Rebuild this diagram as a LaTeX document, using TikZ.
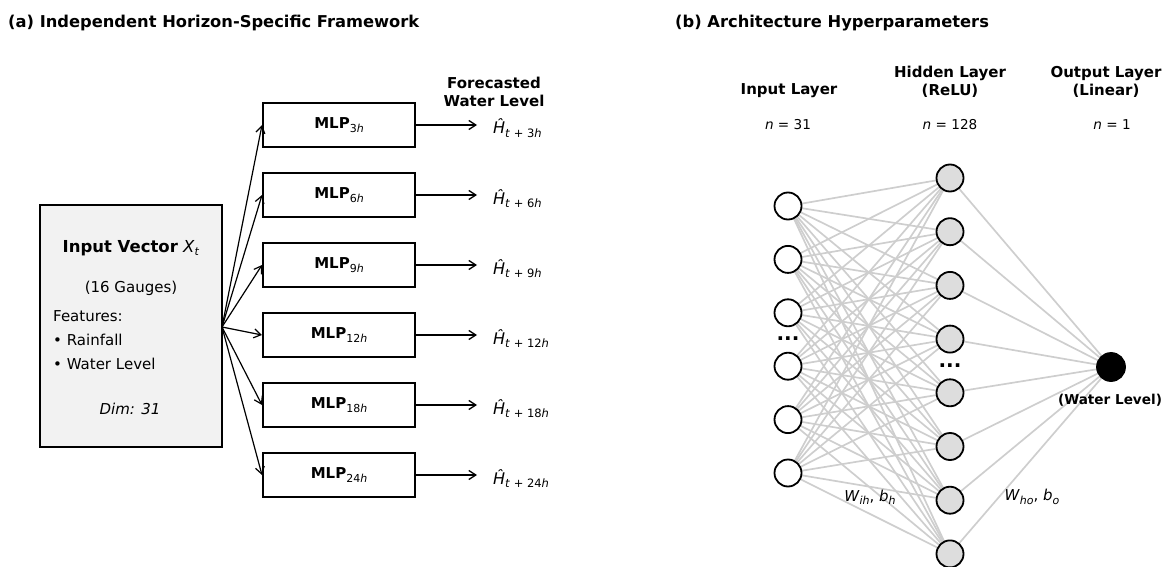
\documentclass[tikz,border=0pt]{standalone}
\usepackage{fontspec}
\setmainfont{DejaVu Sans}[ItalicFont={DejaVu Sans Oblique},BoldFont={DejaVu Sans Bold},BoldItalicFont={DejaVu Sans Bold Oblique}]
\usetikzlibrary{arrows.meta,backgrounds}
\definecolor{edgegray}{RGB}{206,206,206}
\definecolor{hidfill}{RGB}{221,221,221}
\definecolor{boxfill}{RGB}{242,242,242}
\newcommand{\lowsub}[1]{\raisebox{-0.4ex}{\fontsize{11}{12}\selectfont #1}}
\newcommand{\hsub}[1]{\raisebox{-0.4ex}{\fontsize{11.5}{13}\selectfont #1}}
\begin{document}
\begin{tikzpicture}[x=1pt,y=-1pt,
  titletxt/.style={font=\fontsize{16.3}{19}\selectfont\bfseries,inner sep=0pt,anchor=west},
  bodytxt/.style={font=\fontsize{15}{18}\selectfont,inner sep=0pt},
  smalltxt/.style={font=\fontsize{13.6}{16}\selectfont,inner sep=0pt},
  headtxt/.style={font=\fontsize{15}{18}\selectfont\bfseries,inner sep=0pt,align=center},
  inbox/.style={draw,line width=1.6pt,fill=boxfill,minimum width=182pt,minimum height=242pt,inner sep=0pt},
  mlpbox/.style={draw,line width=2pt,fill=white,minimum width=152pt,minimum height=44pt,inner sep=0pt,font=\fontsize{15}{18}\selectfont},
  fanarrow/.style={line width=1.2pt,-{Straight Barb[length=7pt,width=9pt]}},
  outarrow/.style={line width=1.3pt,-{Straight Barb[length=7pt,width=9pt]},shorten >=16pt},
  inneur/.style={circle,draw,line width=1.8pt,fill=white,minimum size=27pt,inner sep=0pt},
  hidneur/.style={circle,draw,line width=1.8pt,fill=hidfill,minimum size=27pt,inner sep=0pt},
  outneur/.style={circle,draw,line width=1.8pt,fill=black,minimum size=28pt,inner sep=0pt},
  wire/.style={draw=edgegray,line width=1.7pt},
  dotstxt/.style={font=\fontsize{20}{20}\selectfont\bfseries,inner sep=0pt}
]
\useasboundingbox (0,0) rectangle (1175,567);

% ---------- Panel (a) ----------
\node[titletxt] (ta) at (8,23) {(a) Independent Horizon-Specific Framework};

\node[inbox] (inp) at (131,326) {};
\node[bodytxt,font=\fontsize{16.5}{19}\selectfont] (iv) at (131,248) {\textbf{Input Vector} \textit{X}\lowsub{\textit{t}}};
\node[bodytxt] (ig) at (131,288) {(16 Gauges)};
\node[bodytxt,anchor=west] (if) at (53,316) {Features:};
\node[bodytxt,anchor=west] (ir) at (53,340) {• Rainfall};
\node[bodytxt,anchor=west] (iw) at (53,364) {• Water Level};
\node[bodytxt] (id) at (130,409) {\textit{Dim: 31}};

\coordinate (fan) at (222,327);

\node[headtxt] (fw) at (494,92) {Forecasted\\Water Level};

\foreach \k/\yy in {3/125,6/195,9/265,12/335,18/405,24/475}{
  \node[mlpbox] (m\k) at (339,\yy) {\textbf{MLP}\lowsub{\k\textit{h}}};
  \node[bodytxt,anchor=base west,font=\fontsize{16}{18}\selectfont] (h\k) at (493,\yy+9) {\textit{Ĥ}\hsub{\textit{t} + \k\textit{h}}};
  \draw[fanarrow] (fan) -- (m\k.west);
  \draw[outarrow] (m\k.east) -- (m\k.east -| h\k.west);
}

% ---------- Panel (b) ----------
\node[titletxt] (tb) at (675,23) {(b) Architecture Hyperparameters};

\node[headtxt] (hl1) at (789,91) {Input Layer};
\node[headtxt] (hl2) at (950,82) {Hidden Layer\\(ReLU)};
\node[headtxt] (hl3) at (1106,82) {Output Layer\\(Linear)};
\node[smalltxt] (nl1) at (788,125) {\textit{n} = 31};
\node[smalltxt] (nl2) at (950,125) {\textit{n} = 128};
\node[smalltxt] (nl3) at (1112,125) {\textit{n} = 1};

\foreach \k in {1,...,6}{
  \node[inneur] (i\k) at (788,{206+53.4*(\k-1)}) {};
}
\foreach \k in {1,...,8}{
  \node[hidneur] (n\k) at (950,{178+53.7*(\k-1)}) {};
}
\node[outneur] (o) at (1111,367) {};

\begin{scope}[on background layer]
  \foreach \a in {1,...,6}{
    \foreach \b in {1,...,8}{
      \draw[wire] (i\a.center) -- (n\b.center);
    }
  }
  \foreach \b in {1,...,8}{
    \draw[wire] (n\b.center) -- (o.center);
  }
\end{scope}

\node[dotstxt] (d1) at (788,339) {...};
\node[dotstxt] (d2) at (950,366) {...};

\node[smalltxt,font=\fontsize{13.6}{16}\selectfont\bfseries] (wl) at (1110,400) {(Water Level)};
\node[bodytxt] (wih) at (870,497) {\textit{W}\lowsub{\textit{ih}}, \textit{b}\lowsub{\textit{h}}};
\node[bodytxt] (who) at (1032,497) {\textit{W}\lowsub{\textit{ho}}, \textit{b}\lowsub{\textit{o}}};
\end{tikzpicture}
\end{document}
